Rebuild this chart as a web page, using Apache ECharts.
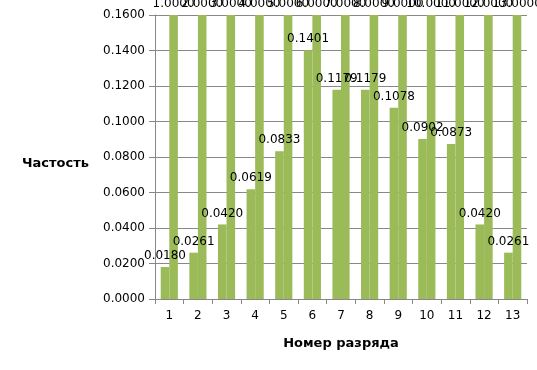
<!DOCTYPE html>
<html>
<head>
<meta charset="utf-8">
<script src="https://cdn.jsdelivr.net/npm/echarts@6/dist/echarts.min.js"></script>
<style>html,body{margin:0;padding:0;background:#fff}#c{width:537px;height:370px}</style>
</head>
<body>
<div id="c"></div>
<script>
var categories = ['1','2','3','4','5','6','7','8','9','10','11','12','13'];
var frequency = [0.0180, 0.0261, 0.0420, 0.0619, 0.0833, 0.1401, 0.1179, 0.1179, 0.1078, 0.0902, 0.0873, 0.0420, 0.0261];
var rankNumber = [1, 2, 3, 4, 5, 6, 7, 8, 9, 10, 11, 12, 13];
var yTicks = { min: 0, max: 0.16, interval: 0.02 };
var xTitle = 'Номер разряда';
var yTitle = 'Частость';

var font = 'DejaVu Sans';
var green = '#9BBB59';
var chart = echarts.init(document.getElementById('c'), null, {renderer: 'canvas'});
function fmt(v) { return Number(v).toFixed(4); }
var barLabel = { show: true, position: 'top', distance: 5, fontFamily: font, fontSize: 12, color: '#000', formatter: function(p){ return fmt(p.value); } };
chart.setOption({
  animation: false,
  backgroundColor: '#fff',
  textStyle: { fontFamily: font },
  grid: { left: 155, right: 10, top: 15, bottom: 71, containLabel: false },
  xAxis: {
    type: 'category',
    data: categories,
    name: xTitle,
    nameLocation: 'middle',
    nameGap: 38,
    nameTextStyle: { fontFamily: font, fontWeight: 'bold', fontSize: 13, color: '#000' },
    axisLine: { lineStyle: { color: '#888', width: 1 } },
    axisTick: { show: true, length: 5, alignWithLabel: false, lineStyle: { color: '#888' } },
    axisLabel: { fontFamily: font, fontSize: 12, color: '#000', margin: 11 },
    splitLine: { show: false }
  },
  yAxis: {
    type: 'value',
    min: yTicks.min,
    max: yTicks.max,
    interval: yTicks.interval,
    name: yTitle,
    nameLocation: 'middle',
    nameRotate: 0,
    nameGap: 66,
    nameTextStyle: { fontFamily: font, fontWeight: 'bold', fontSize: 13, color: '#000', verticalAlign: 'top' },
    axisLine: { show: true, lineStyle: { color: '#888', width: 1 } },
    axisTick: { show: true, length: 6, lineStyle: { color: '#888' } },
    axisLabel: { fontFamily: font, fontSize: 12, color: '#000', margin: 10, formatter: fmt },
    splitLine: { show: true, lineStyle: { color: '#888', width: 1 } }
  },
  series: [
    {
      type: 'bar',
      data: frequency,
      barGap: '0%',
      barCategoryGap: '40%',
      itemStyle: { color: green, borderWidth: 0 },
      clip: true,
      label: barLabel
    },
    {
      type: 'bar',
      data: rankNumber,
      barGap: '0%',
      barCategoryGap: '40%',
      itemStyle: { color: green, borderWidth: 0 },
      clip: true,
      label: barLabel
    }
  ]
});
</script>
</body>
</html>
